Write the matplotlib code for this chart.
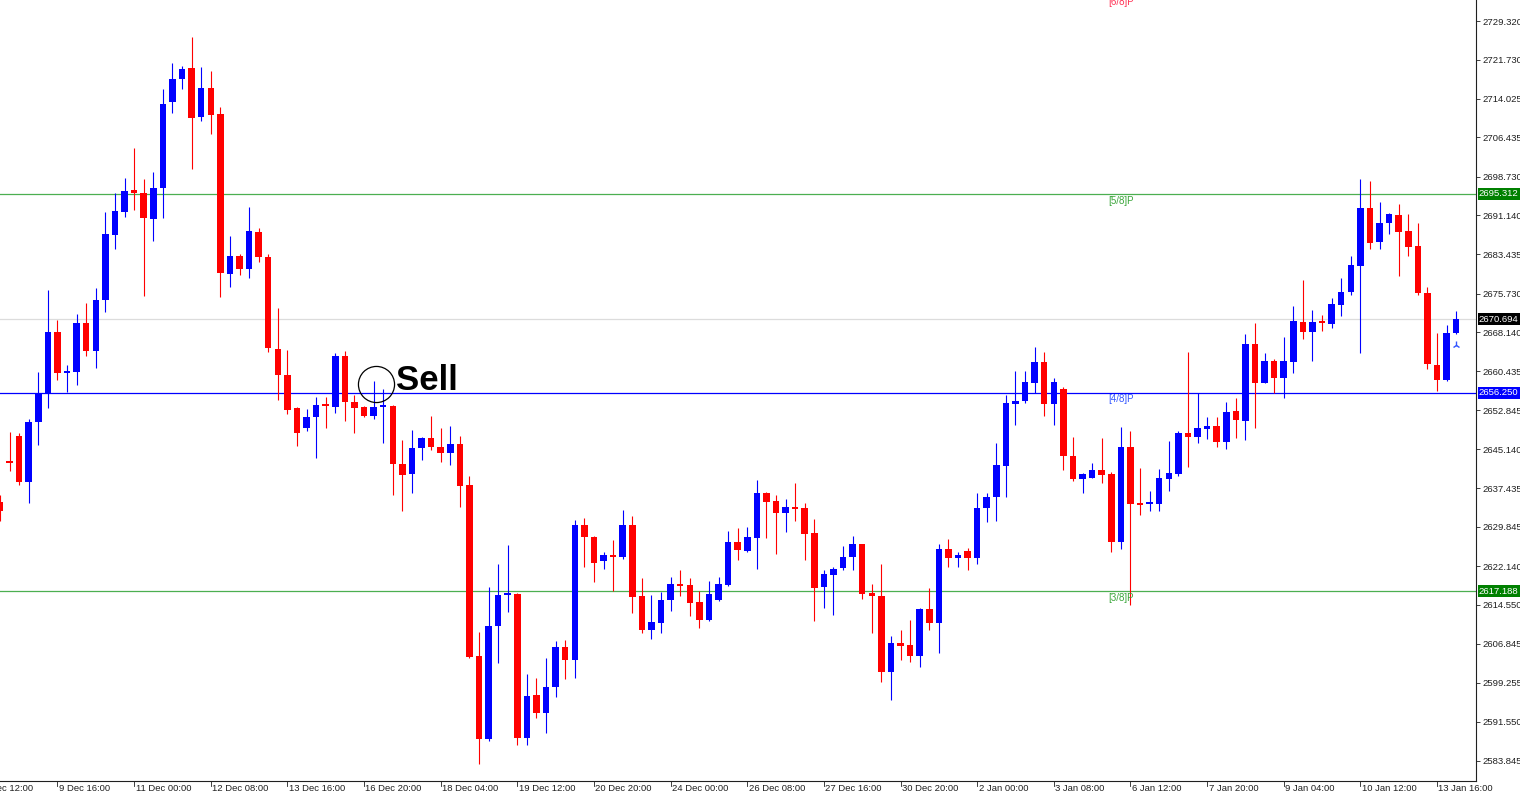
import matplotlib
matplotlib.use("Agg")
import matplotlib.pyplot as plt
import matplotlib.transforms as mtransforms

# ---------------- data (4H candles) ----------------
opens = [2634.8, 2642.8, 2647.7, 2638.7, 2650.4, 2656.2, 2668.2, 2660.1, 2660.4, 2669.9,
         2664.5, 2674.5, 2687.3, 2691.8, 2695.9, 2695.6, 2690.3, 2696.5, 2713.3, 2718.0,
         2720.0, 2710.5, 2716.2, 2711.0, 2679.5, 2683.1, 2680.6, 2687.8, 2682.9, 2664.8,
         2659.7, 2653.2, 2649.4, 2651.4, 2653.8, 2653.5, 2663.5, 2654.5, 2653.4, 2651.7,
         2653.5, 2653.6, 2642.2, 2640.2, 2645.3, 2647.3, 2645.5, 2644.4, 2646.1, 2638.1,
         2604.5, 2588.1, 2610.4, 2616.4, 2616.7, 2588.3, 2596.8, 2593.3, 2598.3, 2606.2,
         2603.6, 2630.2, 2627.8, 2623.2, 2624.3, 2623.9, 2630.2, 2616.3, 2609.6, 2611.0,
         2615.4, 2618.6, 2618.5, 2615.1, 2611.6, 2615.5, 2618.5, 2626.8, 2625.2, 2627.7,
         2636.6, 2635.0, 2632.5, 2633.7, 2633.6, 2628.7, 2618.0, 2620.5, 2621.8, 2624.0,
         2626.5, 2616.8, 2616.3, 2601.4, 2607.0, 2606.6, 2604.5, 2613.7, 2610.9, 2625.5,
         2623.7, 2625.1, 2623.7, 2633.5, 2635.8, 2641.8, 2654.0, 2654.6, 2658.2, 2662.2,
         2654.0, 2657.0, 2643.8, 2639.3, 2639.5, 2641.0, 2640.2, 2626.8, 2645.5, 2634.4,
         2634.3, 2634.4, 2639.3, 2640.2, 2648.4, 2647.6, 2649.2, 2649.7, 2646.6, 2652.6,
         2650.7, 2665.8, 2658.2, 2662.5, 2659.2, 2662.3, 2670.2, 2668.1, 2670.1, 2669.7,
         2673.5, 2676.1, 2681.2, 2692.6, 2685.8, 2689.7, 2691.2, 2688.0, 2685.1, 2675.8,
         2661.7, 2658.7, 2667.9]
highs = [2636.1, 2648.5, 2648.3, 2651.1, 2660.4, 2676.4, 2670.5, 2661.7, 2671.7, 2673.9,
         2676.8, 2691.8, 2695.5, 2698.5, 2704.3, 2698.3, 2699.6, 2715.9, 2721.1, 2720.5,
         2726.2, 2720.3, 2719.4, 2712.4, 2687.0, 2683.5, 2692.8, 2688.6, 2683.5, 2672.9,
         2664.6, 2653.5, 2653.0, 2655.5, 2655.5, 2664.1, 2664.5, 2655.8, 2653.6, 2658.5,
         2657.0, 2653.9, 2647.0, 2649.0, 2647.6, 2651.7, 2649.4, 2649.7, 2647.7, 2639.9,
         2609.3, 2618.1, 2622.6, 2626.4, 2616.9, 2601.0, 2600.2, 2604.0, 2607.5, 2607.6,
         2631.2, 2631.7, 2628.1, 2624.9, 2627.3, 2633.2, 2632.0, 2619.9, 2616.5, 2617.1,
         2620.0, 2621.4, 2619.8, 2617.2, 2619.3, 2620.1, 2629.1, 2629.6, 2629.9, 2639.1,
         2636.8, 2636.1, 2635.4, 2638.4, 2634.5, 2631.4, 2621.4, 2622.0, 2626.1, 2628.1,
         2626.6, 2618.6, 2622.6, 2608.4, 2609.5, 2611.6, 2614.0, 2617.8, 2626.6, 2627.5,
         2624.9, 2625.8, 2636.6, 2636.5, 2646.3, 2655.8, 2660.5, 2660.5, 2665.3, 2664.3,
         2659.1, 2657.4, 2647.5, 2640.4, 2642.4, 2647.4, 2640.7, 2649.6, 2648.8, 2641.4,
         2637.0, 2641.2, 2646.7, 2648.8, 2664.3, 2656.1, 2651.4, 2651.4, 2654.5, 2655.2,
         2667.8, 2670.0, 2664.1, 2662.8, 2667.1, 2673.3, 2678.5, 2672.6, 2671.5, 2674.9,
         2678.8, 2683.1, 2698.2, 2697.9, 2693.8, 2691.5, 2693.3, 2691.4, 2689.7, 2677.1,
         2667.9, 2669.5, 2672.3]
lows = [2631.0, 2640.9, 2638.1, 2634.6, 2646.0, 2653.2, 2658.7, 2656.4, 2657.8, 2663.5,
        2661.1, 2672.1, 2684.5, 2690.8, 2692.2, 2675.3, 2686.1, 2690.6, 2711.2, 2716.0,
        2700.3, 2709.7, 2707.2, 2675.1, 2677.1, 2679.4, 2678.8, 2681.9, 2664.3, 2654.8,
        2652.1, 2645.8, 2648.8, 2643.5, 2649.4, 2652.3, 2650.7, 2648.4, 2651.4, 2651.0,
        2646.3, 2636.1, 2633.0, 2636.6, 2643.0, 2645.0, 2642.6, 2642.0, 2633.7, 2604.0,
        2583.3, 2587.8, 2603.2, 2613.2, 2587.0, 2587.0, 2592.2, 2589.4, 2596.4, 2600.0,
        2600.1, 2622.0, 2619.0, 2621.6, 2617.3, 2623.5, 2612.9, 2609.1, 2607.9, 2609.0,
        2613.4, 2616.3, 2612.3, 2609.9, 2611.4, 2615.2, 2618.2, 2623.4, 2625.0, 2621.6,
        2627.7, 2624.6, 2628.8, 2631.1, 2623.4, 2611.4, 2614.0, 2612.5, 2621.4, 2621.3,
        2615.7, 2609.0, 2599.4, 2595.8, 2603.7, 2603.4, 2602.4, 2609.6, 2605.1, 2622.0,
        2622.0, 2621.4, 2622.6, 2630.9, 2631.1, 2635.8, 2649.9, 2654.2, 2656.1, 2651.7,
        2649.8, 2641.0, 2638.9, 2636.5, 2639.5, 2638.4, 2625.0, 2625.6, 2614.5, 2632.3,
        2633.0, 2632.9, 2637.0, 2639.9, 2641.7, 2646.3, 2647.1, 2645.5, 2645.1, 2647.3,
        2647.0, 2649.3, 2658.1, 2656.1, 2655.3, 2660.2, 2666.9, 2662.5, 2668.4, 2668.9,
        2671.4, 2675.4, 2664.0, 2684.4, 2684.4, 2687.4, 2679.2, 2683.1, 2675.4, 2660.9,
        2656.6, 2658.6, 2667.8]
closes = [2633.0, 2642.5, 2638.7, 2650.5, 2656.1, 2668.2, 2660.1, 2660.5, 2669.9, 2664.4,
          2674.5, 2687.4, 2692.0, 2695.9, 2695.6, 2690.5, 2696.4, 2713.1, 2717.9, 2719.9,
          2710.3, 2716.1, 2710.8, 2679.7, 2683.1, 2680.6, 2688.0, 2682.9, 2665.0, 2659.7,
          2652.8, 2648.3, 2651.4, 2653.8, 2653.6, 2663.5, 2654.5, 2653.2, 2651.7, 2653.5,
          2653.8, 2642.2, 2640.1, 2645.3, 2647.3, 2645.6, 2644.4, 2646.1, 2638.0, 2604.2,
          2588.1, 2610.4, 2616.5, 2616.7, 2588.3, 2596.6, 2593.3, 2598.3, 2606.2, 2603.6,
          2630.2, 2627.8, 2622.7, 2624.3, 2624.0, 2630.2, 2616.1, 2609.5, 2611.1, 2615.4,
          2618.6, 2618.3, 2615.0, 2611.6, 2616.7, 2618.6, 2626.8, 2625.3, 2627.8, 2636.5,
          2634.8, 2632.5, 2633.7, 2633.4, 2628.5, 2617.9, 2620.6, 2621.6, 2624.0, 2626.5,
          2616.7, 2616.2, 2601.4, 2607.0, 2606.5, 2604.5, 2613.7, 2610.9, 2625.5, 2623.8,
          2624.3, 2623.7, 2633.5, 2635.8, 2642.0, 2654.2, 2654.6, 2658.4, 2662.2, 2654.0,
          2658.4, 2643.8, 2639.3, 2640.3, 2641.0, 2640.1, 2626.8, 2645.6, 2634.3, 2634.2,
          2634.7, 2639.5, 2640.5, 2648.4, 2647.6, 2649.3, 2649.7, 2646.6, 2652.5, 2650.9,
          2665.8, 2658.2, 2662.5, 2659.2, 2662.5, 2670.3, 2668.1, 2670.2, 2669.9, 2673.7,
          2676.1, 2681.3, 2692.6, 2685.7, 2689.7, 2691.3, 2687.9, 2684.9, 2675.8, 2661.8,
          2658.7, 2667.9, 2670.694]

time_labels = ["6 Dec 12:00", "9 Dec 16:00", "11 Dec 00:00", "12 Dec 08:00", "13 Dec 16:00",
               "16 Dec 20:00", "18 Dec 04:00", "19 Dec 12:00", "20 Dec 20:00",
               "24 Dec 00:00", "26 Dec 08:00", "27 Dec 16:00", "30 Dec 20:00",
               "2 Jan 00:00", "3 Jan 08:00", "6 Jan 12:00", "7 Jan 20:00",
               "9 Jan 04:00", "10 Jan 12:00", "13 Jan 16:00"]
time_label_index = [-2, 6, 14, 22, 30, 38, 46, 54, 62, 70, 78, 86, 94, 102, 110,
                    118, 126, 134, 142, 150]

price_ticks = [2729.320, 2721.730, 2714.025, 2706.435, 2698.730, 2691.140, 2683.435,
               2675.730, 2668.140, 2660.435, 2652.845, 2645.140, 2637.435, 2629.845,
               2622.140, 2614.550, 2606.845, 2599.255, 2591.550, 2583.845]

level_names = ["[6/8]P", "[5/8]P", "[4/8]P", "[3/8]P"]
level_values = [2734.375, 2695.312, 2656.250, 2617.188]
level_line_colors = [None, "#4caf50", "#0000ff", "#4caf50"]
level_text_colors = ["#ff3355", "#3aa63a", "#3355ff", "#3aa63a"]
level_box_colors = [None, "#008000", "#0000ff", "#008000"]
level_label_index = 115.7

last_price = 2670.694

sell_index = 39.3
sell_price = 2657.9
sell_text = "Sell"

# ---------------- figure ----------------
W, H, DPI = 1520, 792, 100
fig = plt.figure(figsize=(W / DPI, H / DPI), dpi=DPI, facecolor="white")
ax = fig.add_axes([0, 1 - 781 / H, 1476 / W, 781 / H])
ax.set_facecolor("white")

ax.set_xlim(0.0, 154.07)
ax.set_ylim(2579.91, 2733.45)

# horizontal level lines
ax.axhline(last_price, color="#dcdcdc", lw=0.9, zorder=1)
for v, lc in zip(level_values, level_line_colors):
    if lc:
        ax.axhline(v, color=lc, lw=0.9, zorder=1)

# candles
up_c, dn_c = "#0000ff", "#ff0000"
idx = list(range(len(opens)))
colors = [up_c if c >= o else dn_c for o, c in zip(opens, closes)]
ax.vlines(idx, lows, highs, colors=colors, lw=0.8, zorder=2)
bottoms = [min(o, c) for o, c in zip(opens, closes)]
heights = [max(abs(c - o), 0.4) for o, c in zip(opens, closes)]
ax.bar(idx, heights, bottom=bottoms, width=0.68, color=colors, linewidth=0, zorder=3)

# small arrow marker below last candle
ax.plot([idx[-1]], [lows[-1] - 2.2], marker="2", color="#3355ff", ms=6, mew=1.0, zorder=4)

# level labels on chart
for name, v, tc in zip(level_names, level_values, level_text_colors):
    ax.text(level_label_index, v - 0.3, name, color=tc, fontsize=7,
            family="Liberation Sans", ha="left", va="top", zorder=4, clip_on=False)

# Sell annotation
ax.plot([sell_index], [sell_price], marker="o", ms=26, mfc="none", mec="black",
        mew=0.9, zorder=5)
ax.annotate(sell_text, xy=(sell_index, sell_price), xytext=(14, -4), textcoords="offset points",
            fontsize=25, fontweight="heavy", family="Liberation Sans", color="black",
            ha="left", va="baseline", zorder=6)

# spines
for s in ["left", "top"]:
    ax.spines[s].set_visible(False)
for s in ["right", "bottom"]:
    ax.spines[s].set_color("#202020")
    ax.spines[s].set_linewidth(0.8)

# y axis on right
ax.yaxis.tick_right()
ax.set_yticks(price_ticks)
ax.set_yticklabels([f"{v:.3f}" for v in price_ticks])
ax.tick_params(axis="y", direction="out", length=3, width=0.6, pad=2,
               labelsize=6.8, colors="#202020")
for t in ax.get_yticklabels():
    t.set_family("Liberation Sans")

# x axis
ax.set_xticks([])
xt = mtransforms.blended_transform_factory(ax.transData, ax.transAxes)
for i, lab in zip(time_label_index, time_labels):
    ax.plot([i, i], [0, -0.006], transform=xt, color="#202020", lw=0.6, clip_on=False)
    ax.text(i + 0.15, -0.004, lab, transform=xt, ha="left", va="top", fontsize=6.8,
            family="Liberation Sans", color="#202020", clip_on=False)

# price boxes on the right axis
yt = mtransforms.blended_transform_factory(ax.transAxes, ax.transData)
for v, bc in zip(level_values, level_box_colors):
    if bc:
        ax.text(1.002, v, f"{v:.3f}", transform=yt, ha="left", va="center", fontsize=6.8,
                family="Liberation Sans", color="white", clip_on=False, zorder=10,
                bbox=dict(boxstyle="square,pad=0.15", fc=bc, ec="none"))
ax.text(1.002, last_price, f"{last_price:.3f}", transform=yt, ha="left", va="center",
        fontsize=6.8, family="Liberation Sans", color="white", clip_on=False, zorder=10,
        bbox=dict(boxstyle="square,pad=0.15", fc="black", ec="none"))

fig.savefig("out.png", dpi=DPI, facecolor="white")
